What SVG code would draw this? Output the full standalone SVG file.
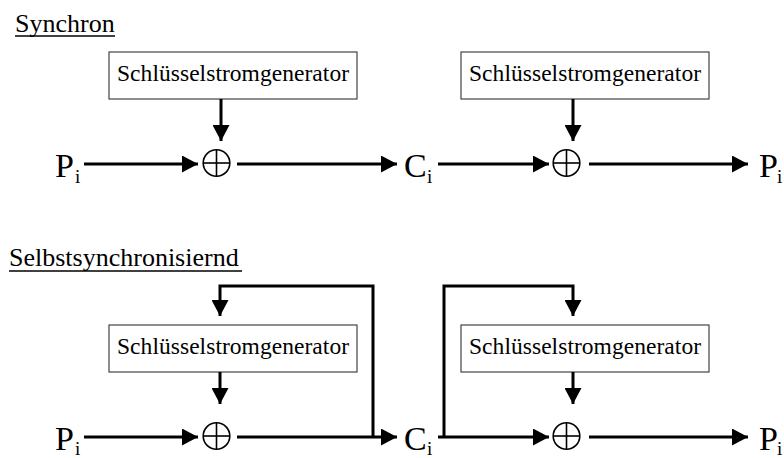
<svg xmlns="http://www.w3.org/2000/svg" width="784" height="458" viewBox="0 0 784 458">
  <defs>
    <marker id="head" markerUnits="userSpaceOnUse" markerWidth="17" markerHeight="17" viewBox="0 0 17 17" refX="16" refY="8.5" orient="auto">
      <path d="M0,0 L16,8.5 L0,17 Z" fill="#000"/>
    </marker>
    <g id="xorsym" fill="none" stroke="#000" stroke-width="1.6">
      <circle cx="0" cy="0" r="13.3"/>
      <line x1="-13.3" y1="0" x2="13.3" y2="0"/>
      <line x1="0" y1="-13.3" x2="0" y2="13.3"/>
    </g>
    <rect id="genbox" x="0" y="0" width="248" height="47" fill="#fff" stroke="#444" stroke-width="1.2"/>
  </defs>
  <rect x="0" y="0" width="784" height="458" fill="#fff"/>

  <g font-family="Liberation Serif" fill="#000">
    <!-- section headings -->
    <g id="heading-synchron">
      <text font-size="26" x="15" y="32">Synchron</text>
      <line x1="15" y1="36" x2="115" y2="36" stroke="#000" stroke-width="1.5"/>
    </g>
    <g id="heading-selbst">
      <text font-size="26" x="9" y="266">Selbstsynchronisiernd</text>
      <line x1="9" y1="271" x2="242" y2="271" stroke="#000" stroke-width="1.5"/>
    </g>

    <!-- synchronous mode -->
    <g id="s-p-in">
      <text font-size="34" x="55" y="177">P</text>
      <text font-size="19" x="75" y="183">i</text>
    </g>
    <g id="s-gen1">
      <use href="#genbox" x="109" y="52"/>
      <text font-size="23.5" text-anchor="middle" x="233" y="81" textLength="232">Schlüsselstromgenerator</text>
    </g>
    <g id="s-xor1"><use href="#xorsym" x="216.5" y="163"/></g>
    <g id="s-c">
      <text font-size="34" x="404" y="177">C</text>
      <text font-size="19" x="427" y="183">i</text>
    </g>
    <g id="s-gen2">
      <use href="#genbox" x="461" y="52"/>
      <text font-size="23.5" text-anchor="middle" x="585" y="81" textLength="232">Schlüsselstromgenerator</text>
    </g>
    <g id="s-xor2"><use href="#xorsym" x="566.5" y="163"/></g>
    <g id="s-p-out">
      <text font-size="34" x="759" y="177">P</text>
      <text font-size="19" x="777" y="183">i</text>
    </g>

    <!-- self-synchronising mode -->
    <g id="a-p-in">
      <text font-size="34" x="55" y="450">P</text>
      <text font-size="19" x="75" y="455">i</text>
    </g>
    <g id="a-gen1">
      <use href="#genbox" x="109" y="325"/>
      <text font-size="23.5" text-anchor="middle" x="233" y="354" textLength="232">Schlüsselstromgenerator</text>
    </g>
    <g id="a-xor1"><use href="#xorsym" x="216.5" y="436"/></g>
    <g id="a-c">
      <text font-size="34" x="404" y="450">C</text>
      <text font-size="19" x="427" y="455">i</text>
    </g>
    <g id="a-gen2">
      <use href="#genbox" x="461" y="325"/>
      <text font-size="23.5" text-anchor="middle" x="585" y="354" textLength="232">Schlüsselstromgenerator</text>
    </g>
    <g id="a-xor2"><use href="#xorsym" x="566.5" y="436"/></g>
    <g id="a-p-out">
      <text font-size="34" x="759" y="450">P</text>
      <text font-size="19" x="777" y="455">i</text>
    </g>
  </g>

  <!-- connectors -->
  <g id="connectors" fill="none" stroke="#000" stroke-width="3" marker-end="url(#head)">
    <!-- synchronous -->
    <line x1="84" y1="164" x2="198" y2="164"/>
    <line x1="221" y1="99" x2="221" y2="141"/>
    <line x1="237" y1="164" x2="397" y2="164"/>
    <line x1="438" y1="164" x2="549" y2="164"/>
    <line x1="573" y1="99" x2="573" y2="141"/>
    <line x1="589" y1="164" x2="748" y2="164"/>
    <!-- self-synchronising -->
    <line x1="84" y1="437" x2="198" y2="437"/>
    <line x1="220" y1="372" x2="220" y2="404"/>
    <line x1="237" y1="437" x2="397" y2="437"/>
    <polyline points="373,437 373,286 220,286 220,316"/>
    <line x1="438" y1="437" x2="549" y2="437"/>
    <polyline points="444,437 444,286 573,286 573,316"/>
    <line x1="573" y1="372" x2="573" y2="404"/>
    <line x1="589" y1="437" x2="748" y2="437"/>
  </g>
</svg>
